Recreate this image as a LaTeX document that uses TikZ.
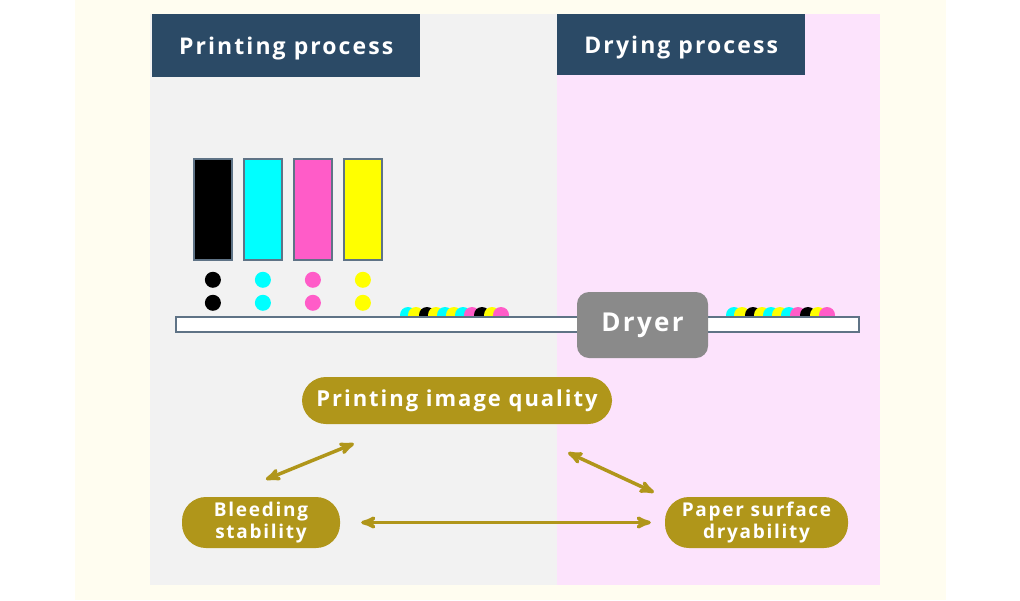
\documentclass[tikz,border=0pt]{standalone}
\usepackage{fontspec}
\setmainfont{Open Sans}[LetterSpace=9]
\usepackage{tikz}
\usetikzlibrary{calc}
\usetikzlibrary{arrows}

\definecolor{cream}{HTML}{FFFDF0}
\definecolor{panelgray}{HTML}{F2F2F2}
\definecolor{panelpink}{HTML}{FCE3FC}
\definecolor{headblue}{HTML}{2B4A66}
\definecolor{olive}{HTML}{B0961A}
\definecolor{edgeblue}{HTML}{5F7386}
\definecolor{inkcyan}{HTML}{00FFFF}
\definecolor{inkmagenta}{HTML}{FF5CC8}
\definecolor{inkyellow}{HTML}{FFFF00}
\definecolor{dryergray}{HTML}{8A8A8A}

\begin{document}
\begin{tikzpicture}[x=1pt,y=-1pt,>=stealth',
head node/.style={fill=headblue,text=white,font=\bfseries\fontsize{23}{25}\selectfont,
  anchor=north west,inner sep=0pt,text depth=0pt},
ink node/.style={draw=edgeblue,line width=1.8pt,minimum width=38pt,minimum height=101pt,
  inner sep=0pt,anchor=north west},
pill node/.style={fill=olive,text=white,rounded corners=24pt,inner sep=0pt,align=center,
  font=\bfseries\fontsize{19}{22}\selectfont},
link/.style={<->,draw=olive,line width=3.5pt,shorten >=1pt,shorten <=1pt}]

% background and the two process areas
\fill[white] (0,0) rectangle (1020,600);
\fill[cream] (75,0) rectangle (946,600);
\fill[panelgray] (150,14) rectangle (557,585);
\fill[panelpink] (557,14) rectangle (880,585);

\node[head node,minimum width=268pt,minimum height=63pt] (printhead) at (152,14) {Printing process};
\node[head node,minimum width=248pt,minimum height=61pt] (dryhead) at (557,14) {Drying process};

% ink cartridges and drops
\foreach \c/\x/\n in {black/193/k,inkcyan/243/c,inkmagenta/293/m,inkyellow/343/y}{
  \node[ink node,fill=\c] (ink\n) at (\x,158) {};
  \fill[\c] ($(ink\n.south)+(0,19)$) circle (8pt);
  \fill[\c] ($(ink\n.south)+(0,42)$) circle (8pt);
}

% drops on the paper
\foreach \o in {0,326}{
  \foreach \c/\x in {inkcyan/408,inkyellow/416,black/427,inkyellow/436,inkcyan/445,
      inkyellow/454,inkcyan/463,inkmagenta/472,black/482,inkyellow/492,inkmagenta/501}{
    \fill[\c] (\x+\o,315) circle (8pt);
  }
}

\node[draw=edgeblue,fill=white,line width=1.5pt,minimum width=683pt,minimum height=15pt,
  inner sep=0pt,anchor=north west] (paper) at (175,316) {};

\node[fill=dryergray,text=white,rounded corners=12pt,minimum width=131pt,minimum height=66pt,
  inner sep=0pt,font=\bfseries\fontsize{26}{28}\selectfont] (dryer) at (642.5,325) {Dryer};

% quality factors
\node[pill node,minimum width=310pt,minimum height=47pt,font=\bfseries\fontsize{22}{24}\selectfont]
  (quality) at (457,400.5) {Printing image quality};
\node[pill node,minimum width=158pt,minimum height=51pt] (bleeding) at (261,522.5) {Bleeding\\stability};
\node[pill node,minimum width=183pt,minimum height=51pt] (dryability) at (756.5,522.5) {Paper surface\\dryability};

\draw[link] ($(bleeding.north)+(4,-17)$) -- ($(quality.south west)+(53,19)$);
\draw[link] ($(quality.south east)+(-45,28)$) -- ($(dryability.north west)+(-10,-4)$);
\draw[link] ($(bleeding.east)+(20,0)$) -- ($(dryability.west)+(-13,0)$);
\end{tikzpicture}
\end{document}
